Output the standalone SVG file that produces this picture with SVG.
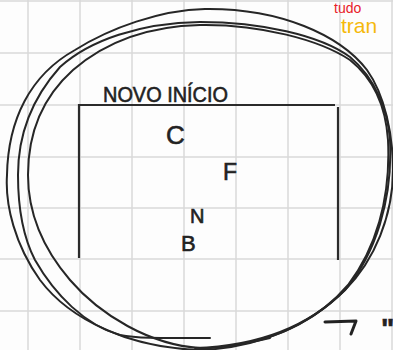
<svg xmlns="http://www.w3.org/2000/svg" width="393" height="350" viewBox="0 0 393 350">
<style>
.grid{stroke:#d9d9d9;stroke-width:1.5}
.loop{fill:none;stroke:#262626;stroke-width:2;stroke-linecap:round}
.box{fill:none;stroke:#2b2b2b;stroke-width:2.2}
.hand{font-family:"Liberation Sans",Arial,sans-serif;fill:#222;stroke:#222;stroke-width:0.6}
</style>
<rect width="393" height="350" fill="#fdfdfd"/>
<g id="grid">
<path class="grid" d="M28,0V350M80,0V350M132,0V350M184,0V350M236,0V350M288,0V350M340,0V350M392,0V350M0,1H393M0,53H393M0,105H393M0,157H393M0,208H393M0,259H393M0,311H393"/>
</g>
<g id="loops">
<path class="loop" d="M200,350 C130,348 70,320 40,280 C15,245 5,205 7,175 C8,120 30,75 75,50 C110,28 160,10 205,9 C280,8 340,35 367,70 C385,95 393,135 393,170 C393,215 375,260 345,290 C310,325 260,348 200,350"/>
<path class="loop" d="M210,338 C170,338 140,339 120,335 C85,325 55,295 35,260 C22,235 18,205 18,175 C18,130 35,95 60,67 C90,40 140,23 200,22 C260,22 320,35 350,57 C375,78 388,110 390,140 C393,200 375,255 345,290 C310,325 260,346 195,348"/>
<path class="loop" d="M270,338 C240,345 215,349 200,348 C150,345 100,315 70,280 C40,245 28,210 28,175 C28,130 45,95 73,70 C110,38 155,26 200,25 C260,24 320,40 350,60 C375,80 386,110 388,140 C391,200 375,250 348,285 C320,318 280,338 240,344"/>
</g>
<g id="box">
<path class="box" d="M79,258V105H335M338,107V260"/>
</g>
<g id="labels">
<text class="hand" x="103" y="102" font-size="22" textLength="125" lengthAdjust="spacingAndGlyphs">NOVO INÍCIO</text>
<text class="hand" x="166" y="144" font-size="26">C</text>
<text class="hand" x="223" y="180" font-size="23">F</text>
<text class="hand" x="190" y="223" font-size="20">N</text>
<text class="hand" x="181" y="251" font-size="22">B</text>
<text x="334" y="13" font-family="Liberation Sans,Arial,sans-serif" font-size="14" fill="#e8202a">tudo</text>
<text x="341" y="33" font-family="Liberation Sans,Arial,sans-serif" font-size="21" fill="#f5b90a">tran</text>
<path d="M325,322 L356,321 L351,334" fill="none" stroke="#222" stroke-width="3" stroke-linecap="round" stroke-linejoin="round"/>
<text class="hand" x="381" y="338" font-size="28" font-weight="bold">"</text>
</g>
</svg>
